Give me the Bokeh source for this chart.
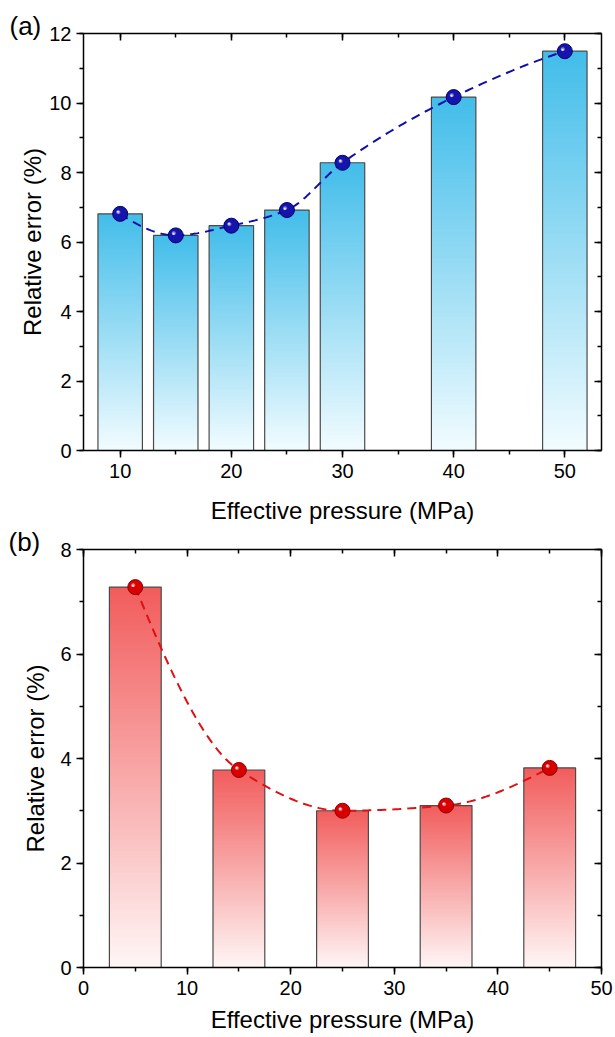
import numpy as np
from bokeh.plotting import figure
from bokeh.layouts import column
from bokeh.models import (LinearAxis, SingleIntervalTicker, Range1d,
                          CustomJSTickFormatter)
from bokeh.embed import file_html
from bokeh.resources import INLINE

# ---------------- data ----------------
pressure_a = [10, 15, 20, 25, 30, 40, 50]
error_a = [6.81, 6.19, 6.47, 6.92, 8.28, 10.17, 11.49]
pressure_b = [5, 15, 25, 35, 45]
error_b = [7.28, 3.78, 3.00, 3.10, 3.82]
bar_width_a = 4
bar_width_b = 5
xlabel = "Effective pressure (MPa)"
ylabel = "Relative error (%)"

FONT = "Liberation Sans"


def smooth_curve(x, y, n=40):
    """Monotone cubic (PCHIP-style) connection through the data points."""
    x = np.asarray(x, float)
    y = np.asarray(y, float)
    h = np.diff(x)
    d = np.diff(y) / h
    m = np.zeros_like(y)
    for i in range(1, len(x) - 1):
        if d[i - 1] * d[i] > 0:
            w1 = 2 * h[i] + h[i - 1]
            w2 = h[i] + 2 * h[i - 1]
            m[i] = (w1 + w2) / (w1 / d[i - 1] + w2 / d[i])
        else:
            m[i] = 0.0

    def edge(h0, h1, d0, d1):
        mm = ((2 * h0 + h1) * d0 - h0 * d1) / (h0 + h1)
        if np.sign(mm) != np.sign(d0):
            mm = 0.0
        elif np.sign(d0) != np.sign(d1) and abs(mm) > abs(3 * d0):
            mm = 3 * d0
        return mm

    m[0] = edge(h[0], h[1], d[0], d[1])
    m[-1] = edge(h[-1], h[-2], d[-1], d[-2])
    xs, ys = [], []
    for i in range(len(x) - 1):
        t = np.linspace(0, 1, n, endpoint=(i == len(x) - 2))
        h00 = 2 * t ** 3 - 3 * t ** 2 + 1
        h10 = t ** 3 - 2 * t ** 2 + t
        h01 = -2 * t ** 3 + 3 * t ** 2
        h11 = t ** 3 - t ** 2
        xs.extend(x[i] + t * h[i])
        ys.extend(h00 * y[i] + h10 * h[i] * m[i] + h01 * y[i + 1] + h11 * h[i] * m[i + 1])
    return xs, ys


def gradient_image(top, bottom, n=256):
    t = np.linspace(0.0, 1.0, n)
    img = np.empty((n, 1), dtype=np.uint32)
    v = img.view(dtype=np.uint8).reshape((n, 1, 4))
    for k in range(3):
        v[:, 0, k] = np.round(bottom[k] + (top[k] - bottom[k]) * t).astype(np.uint8)
    v[:, 0, 3] = 255
    return img


def blank_axis(ticker):
    return LinearAxis(ticker=ticker, formatter=CustomJSTickFormatter(code="return ''"),
                      major_label_text_font_size="1px", major_label_standoff=0,
                      major_tick_in=7, major_tick_out=0, minor_tick_in=4, minor_tick_out=0,
                      axis_line_width=1.5, major_tick_line_width=1.5,
                      minor_tick_line_width=1.5, axis_line_color="black",
                      major_tick_line_color="black", minor_tick_line_color="black")


def make_panel(xs, ys, w, xr, yr, xint, yint, top_rgb, bot_rgb, mk_fill, mk_line,
               line_col, panel_text, height, borders, ylab_standoff, xlab_standoff,
               title_standoff):
    bl, br, bt, bb = borders
    p = figure(width=615, height=height, output_backend="svg", toolbar_location=None,
               x_range=Range1d(*xr), y_range=Range1d(*yr),
               min_border_left=bl, min_border_right=br, min_border_top=bt,
               min_border_bottom=bb, background_fill_color="white",
               border_fill_color="white")
    p.outline_line_color = None
    p.grid.visible = False

    p.title.text = panel_text
    p.title.align = "left"
    p.title.offset = 8 - bl
    p.title.standoff = title_standoff
    p.title.text_font = FONT
    p.title.text_font_size = "26px"
    p.title.text_font_style = "normal"
    p.title.text_color = "black"

    xt = SingleIntervalTicker(interval=xint, num_minor_ticks=2)
    yt = SingleIntervalTicker(interval=yint, num_minor_ticks=2)
    p.xaxis.ticker = xt
    p.yaxis.ticker = yt
    for ax in (p.xaxis[0], p.yaxis[0]):
        ax.axis_line_width = 1.5
        ax.major_tick_line_width = 1.5
        ax.minor_tick_line_width = 1.5
        ax.axis_line_color = "black"
        ax.major_tick_line_color = "black"
        ax.minor_tick_line_color = "black"
        ax.major_tick_in = 0
        ax.major_tick_out = 7
        ax.minor_tick_in = 0
        ax.minor_tick_out = 4
        ax.major_label_text_font = FONT
        ax.major_label_text_font_size = "20px"
        ax.major_label_text_color = "black"
        ax.axis_label_text_font = FONT
        ax.axis_label_text_font_size = "24px"
        ax.axis_label_text_font_style = "normal"
        ax.axis_label_text_color = "black"
        ax.major_label_standoff = 5
    p.xaxis.major_label_standoff = 6
    p.xaxis.axis_label = xlabel
    p.yaxis.axis_label = ylabel
    p.yaxis.axis_label_standoff = ylab_standoff
    p.xaxis.axis_label_standoff = xlab_standoff

    p.add_layout(blank_axis(xt), "above")
    p.add_layout(blank_axis(yt), "right")

    n = len(xs)
    img = gradient_image(top_rgb, bot_rgb)
    p.image_rgba(image=[img] * n, x=[x - w / 2 for x in xs], y=[0] * n,
                 dw=[w] * n, dh=list(ys))
    p.vbar(x=xs, width=w, top=ys, bottom=0, fill_color=None,
           line_color="#4a4a4a", line_width=1.2)

    sx, sy = smooth_curve(xs, ys)
    p.line(sx, sy, line_color=line_col, line_width=2, line_dash="9 6")

    p.scatter(xs, ys, size=15, marker="circle", fill_color=mk_fill,
              line_color=mk_line, line_width=1)
    p.text(xs, ys, text=["\u25cf"] * n, x_offset=-2, y_offset=-2,
           text_color="white", text_alpha=0.45, text_font_size="9px",
           text_align="center", text_baseline="middle")
    p.text(xs, ys, text=["\u25cf"] * n, x_offset=-2.5, y_offset=-2.5,
           text_color="white", text_alpha=0.85, text_font_size="5px",
           text_align="center", text_baseline="middle")
    return p


pa = make_panel(pressure_a, error_a, bar_width_a, (6.7, 53.3), (0, 12), 10, 2,
                (66, 189, 234), (242, 252, 255), "#1515AE", "#00006A", "#1010A8",
                "(a)", 528, (82, 14, 33, 78), 0, 16, -14)
pb = make_panel(pressure_b, error_b, bar_width_b, (0, 50), (0, 8), 10, 2,
                (242, 92, 92), (255, 246, 246), "#D80000", "#900000", "#DD1111",
                "(b)", 509, (83, 13, 21, 70), 8, 8, -14)

layout = column(pa, pb, spacing=0)
open("out.html", "w").write(file_html(layout, INLINE))
